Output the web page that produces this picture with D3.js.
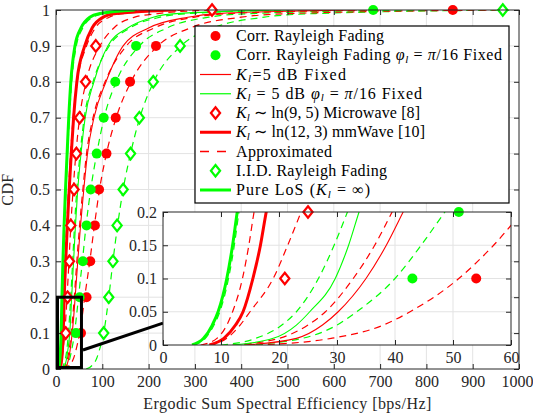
<!DOCTYPE html>
<html>
<head>
<meta charset="utf-8">
<script src="https://cdn.jsdelivr.net/npm/d3@7"></script>
<style>
  body { margin: 0; background: #fff; }
  svg { display: block; }
</style>
</head>
<body>
<div id="chart"></div>
<script>
;(function () {

    var cdfLevels = [0, 0.01, 0.03, 0.05, 0.1, 0.15, 0.2, 0.3, 0.4, 0.5, 0.6, 0.7, 0.8, 0.9, 0.95, 0.98, 0.99, 1];
    // CDF levels of the simulation markers
    var markLevels = [0.1, 0.2, 0.3, 0.4, 0.5, 0.6, 0.7, 0.8, 0.9, 1];

    // spectral efficiency [bps/Hz] at each of cdfLevels
    var losExact    = [5, 7, 8.5, 9.5, 11, 12, 12.8, 15, 17.5, 20.5, 24, 27.5, 32, 41, 54, 73, 95, 170];
    var losApprox   = [5.3, 7.3, 8.8, 9.8, 11.3, 12.3, 13.1, 15.5, 18.2, 21.5, 25, 29, 34, 44, 58, 80, 105, 190];
    var mmExact     = [8, 10.5, 12.5, 13.8, 15.5, 16.8, 17.8, 21, 24.5, 28.5, 33, 38, 45, 62, 78, 102, 130, 260];
    var mmApprox    = [6.5, 9.3, 11, 12, 13.7, 14.8, 15.7, 19, 23, 27, 31.5, 37, 46, 66, 85, 115, 145, 290];
    var microApprox = [8, 11, 13.3, 15, 19, 21.5, 23.8, 28, 32, 37, 43, 51, 65, 95, 125, 170, 220, 340];
    var k5PhiExact  = [12, 19, 23, 25.3, 29.7, 32, 33.8, 38, 42, 47, 54, 63, 82, 112, 155, 210, 260, 500];
    var k5PhiApprox = [10, 16, 20.5, 23, 26.8, 29.5, 31.8, 36, 40, 45, 52, 61, 80, 115, 160, 225, 285, 530];
    var k5Exact     = [14, 23, 27.5, 30.2, 35, 38.5, 41.4, 47, 53, 60, 68, 82, 108, 145, 200, 285, 350, 650];
    var k5Approx    = [12, 20, 25, 28, 32.8, 36.5, 39.5, 45, 51, 58, 66, 80, 106, 152, 212, 300, 370, 700];
    var corrPhiApprox = [14, 24, 30, 33.4, 40, 44.5, 48.6, 57, 65, 75, 88, 104, 130, 180, 240, 330, 420, 800];
    var corrApprox  = [16, 29, 38, 42.6, 51, 57, 62, 73, 83, 94, 109, 130, 162, 220, 290, 400, 500, 950];
    var iidApprox   = [65, 78, 88, 93, 103, 109, 114, 123, 133, 145, 161, 181, 211, 270, 340, 450, 560, 1000];

    // simulation markers at markLevels
    var corrMarks    = [54, 66, 74, 84, 93, 109, 129, 160, 216, 857];
    var corrPhiMarks = [43, 51, 58, 66, 75, 88, 103, 128, 173, 685];
    var microMarks   = [21, 25, 29, 32, 39, 44, 51, 64, 86, 337];
    var iidMarks     = [103, 114, 123, 132, 145, 161, 180, 210, 268, 965];

    var xTicks = [0, 100, 200, 300, 400, 500, 600, 700, 800, 900, 1000];
    var yTicks = [0, 0.1, 0.2, 0.3, 0.4, 0.5, 0.6, 0.7, 0.8, 0.9, 1];
    var insetXTicks = [0, 10, 20, 30, 40, 50, 60];
    var insetYTicks = [0, 0.05, 0.1, 0.15, 0.2];
    var zoomBox = [0, 55, 0, 0.2];

    var legendLabels = [
        [['Corr. Rayleigh Fading']],
        [['Corr. Rayleigh Fading '], ['\u03c6', 'i'], ['l', 'sub'], [' = '], ['\u03c0', 'i'], ['/16 Fixed']],
        [['K', 'i'], ['l', 'sub'], ['=5 dB Fixed']],
        [['K', 'i'], ['l', 'sub'], [' = 5 dB '], ['\u03c6', 'i'], ['l', 'sub'], [' = '], ['\u03c0', 'i'], ['/16 Fixed']],
        [['K', 'i'], ['l', 'sub'], [' \u223c ln(9, 5) Microwave [8]']],
        [['K', 'i'], ['l', 'sub'], [' \u223c ln(12, 3) mmWave [10]']],
        [['Approximated']],
        [['I.I.D. Rayleigh Fading']],
        [['Pure LoS ('], ['K', 'i'], ['l', 'sub'], [' = \u221e)']]
    ];
    // widths of the legend texts as they appear in the figure
    var legendWidths = [148, 266, 110, 186, 184, 189, 96, 151, 134];

    var RED = '#ff0000', GREEN = '#00ff00', INK = '#262626';
    var FONT = '"Liberation Serif", "Times New Roman", Times, serif';

    var curves = [
        { v: iidApprox,     color: GREEN, w: 1.2, dash: '7,5' },
        { v: corrApprox,    color: RED,   w: 1.2, dash: '7,5' },
        { v: corrPhiApprox, color: GREEN, w: 1.2, dash: '7,5' },
        { v: k5Approx,      color: RED,   w: 1.2, dash: '7,5' },
        { v: k5PhiApprox,   color: GREEN, w: 1.2, dash: '7,5' },
        { v: microApprox,   color: RED,   w: 1.2, dash: '7,5' },
        { v: mmApprox,      color: RED,   w: 1.2, dash: '7,5' },
        { v: losApprox,     color: GREEN, w: 1.2, dash: '7,5' },
        { v: k5Exact,       color: RED,   w: 1.1 },
        { v: k5PhiExact,    color: GREEN, w: 1.1 },
        { v: mmExact,       color: RED,   w: 3 },
        { v: losExact,      color: GREEN, w: 3 }
    ];
    var marks = [
        { v: iidMarks,     color: GREEN, shape: 'diamond' },
        { v: corrMarks,    color: RED,   shape: 'dot' },
        { v: corrPhiMarks, color: GREEN, shape: 'dot' },
        { v: microMarks,   color: RED,   shape: 'diamond' }
    ];
    var legendKeys = [
        { color: RED,   shape: 'dot' },
        { color: GREEN, shape: 'dot' },
        { color: RED,   w: 1.2 },
        { color: GREEN, w: 1.2 },
        { color: RED,   shape: 'diamond' },
        { color: RED,   w: 3 },
        { color: RED,   w: 1.4, dash: '9,8' },
        { color: GREEN, shape: 'diamond' },
        { color: GREEN, w: 3 }
    ];

    var W = 533, H = 419;
    var svg = d3.select('#chart').append('svg')
        .attr('width', W)
        .attr('height', H)
        .attr('font-family', FONT);

    var diamond = 'M0,-5.8L4.6,0L0,5.8L-4.6,0Z';

    function drawMarker(sel, shape, color) {
        if (shape === 'dot') {
            sel.append('circle').attr('r', 5).attr('fill', color);
        } else {
            sel.append('path').attr('d', diamond)
                .attr('fill', '#fff')
                .attr('stroke', color)
                .attr('stroke-width', 2.2);
        }
    }

    function panel(g, x, y, xt, yt, fmt, clipId, fontSize) {
        // one axes: white background, grid, curves, markers, box and ticks
        var x0 = x.range()[0], x1 = x.range()[1], y0 = y.range()[0], y1 = y.range()[1];

        g.append('rect').attr('x', x0).attr('y', y1)
            .attr('width', x1 - x0).attr('height', y0 - y1).attr('fill', '#fff');

        g.append('clipPath').attr('id', clipId).append('rect')
            .attr('x', x0).attr('y', y1).attr('width', x1 - x0).attr('height', y0 - y1);

        var grid = g.append('g').attr('stroke', '#e3e3e3').attr('stroke-width', 1);
        grid.selectAll('.gx').data(xt.slice(1, -1)).enter().append('line')
            .attr('x1', x).attr('x2', x).attr('y1', y0).attr('y2', y1);
        grid.selectAll('.gy').data(yt.slice(1, -1)).enter().append('line')
            .attr('y1', y).attr('y2', y).attr('x1', x0).attr('x2', x1);

        var line = d3.line()
            .x(function (d) { return x(d[0]); })
            .y(function (d) { return y(d[1]); })
            .curve(d3.curveMonotoneX);

        var plot = g.append('g').attr('clip-path', 'url(#' + clipId + ')');
        curves.forEach(function (c) {
            plot.append('path')
                .attr('d', line(c.v.map(function (v, i) { return [v, cdfLevels[i]]; })))
                .attr('fill', 'none')
                .attr('stroke', c.color)
                .attr('stroke-width', c.w)
                .attr('stroke-dasharray', c.dash || null);
        });

        var xd = x.domain(), yd = y.domain();
        marks.forEach(function (m) {
            m.v.forEach(function (v, i) {
                var c = markLevels[i];
                if (v < xd[0] || v > xd[1] || c < yd[0] || c > yd[1] + 1e-9) return;
                drawMarker(g.append('g').attr('transform', 'translate(' + x(v) + ',' + y(c) + ')'), m.shape, m.color);
            });
        });

        // MATLAB style box with inward ticks on all four sides
        var ax = g.append('g');
        ax.append('g').attr('class', 'xb').attr('transform', 'translate(0,' + y0 + ')')
            .call(d3.axisBottom(x).tickValues(xt).tickSize(-5).tickPadding(7).tickFormat(fmt));
        ax.append('g').attr('transform', 'translate(0,' + y1 + ')')
            .call(d3.axisTop(x).tickValues(xt).tickSize(-5).tickFormat(''));
        ax.append('g').attr('transform', 'translate(' + x0 + ',0)')
            .call(d3.axisLeft(y).tickValues(yt).tickSize(-5).tickPadding(6).tickFormat(fmt));
        ax.append('g').attr('transform', 'translate(' + x1 + ',0)')
            .call(d3.axisRight(y).tickValues(yt).tickSize(-5).tickFormat(''));
        ax.selectAll('.domain').remove();
        ax.selectAll('g').attr('font-family', FONT).attr('font-size', fontSize);
        ax.selectAll('.tick line').attr('stroke', INK);
        ax.selectAll('.tick text').attr('fill', INK).attr('font-family', FONT);

        g.append('rect').attr('x', x0).attr('y', y1)
            .attr('width', x1 - x0).attr('height', y0 - y1)
            .attr('fill', 'none').attr('stroke', INK).attr('stroke-width', 1);
        return ax;
    }

    function plain(d) { return String(d); }

    // main axes
    var x = d3.scaleLinear().domain([0, 1000]).range([56, 519]);
    var y = d3.scaleLinear().domain([0, 1]).range([369, 10]);
    var mainAx = panel(svg.append('g'), x, y, xTicks, yTicks, plain, 'clipMain', 16);
    // the last x label sits at the page edge: keep it inside
    mainAx.selectAll('.xb .tick text').filter(function (d) { return d === 1000; })
        .attr('text-anchor', 'end').attr('dx', 14);

    svg.append('text')
        .attr('x', (x.range()[0] + x.range()[1]) / 2).attr('y', 409)
        .attr('text-anchor', 'middle').attr('font-size', 16).attr('fill', INK)
        .attr('letter-spacing', 0.45)
        .text('Ergodic Sum Spectral Efficiency [bps/Hz]');
    svg.append('text')
        .attr('transform', 'translate(13,' + y(0.5) + ') rotate(-90)')
        .attr('text-anchor', 'middle').attr('font-size', 16).attr('fill', INK)
        .attr('letter-spacing', 0.4)
        .text('CDF');

    // legend
    var leg = svg.append('g');
    var lx = 195, ly = 26, lw = 314, lh = 177, rowH = 19.25;
    leg.append('rect').attr('x', lx).attr('y', ly).attr('width', lw).attr('height', lh)
        .attr('fill', '#fff').attr('stroke', '#000').attr('stroke-width', 1.2);
    legendLabels.forEach(function (parts, i) {
        var cy = ly + 10 + rowH * i;
        var k = legendKeys[i];
        if (k.shape) {
            drawMarker(leg.append('g').attr('transform', 'translate(215.5,' + cy + ')'), k.shape, k.color);
        } else {
            leg.append('line').attr('x1', 200).attr('x2', 231).attr('y1', cy).attr('y2', cy)
                .attr('stroke', k.color).attr('stroke-width', k.w)
                .attr('stroke-dasharray', k.dash || null);
        }
        var t = leg.append('text').attr('x', 236).attr('y', cy + 5)
            .attr('font-size', 16).attr('fill', '#000')
            .attr('textLength', legendWidths[i]).attr('lengthAdjust', 'spacing');
        var shift = 0;
        parts.forEach(function (p) {
            var s = t.append('tspan').text(p[0]);
            if (p[1] === 'i' || p[1] === 'sub') s.attr('font-style', 'italic');
            if (p[1] === 'sub') {
                s.attr('font-size', 11).attr('dy', 2.5);
                shift = 2.5;
            } else if (shift) {
                s.attr('dy', -shift);
                shift = 0;
            }
        });
    });

    // zoom box and connector
    var zb = svg.append('g').attr('fill', 'none').attr('stroke', '#000').attr('stroke-width', 3);
    zb.append('rect')
        .attr('x', x(zoomBox[0]) + 1.5).attr('y', y(zoomBox[3]))
        .attr('width', x(zoomBox[1]) - x(zoomBox[0]) - 1.5)
        .attr('height', y(zoomBox[2]) - y(zoomBox[3]) - 1.5);

    // inset axes
    var xi = d3.scaleLinear().domain([0, 60]).range([163, 511]);
    var yi = d3.scaleLinear().domain([0, 0.2]).range([345, 212]);

    zb.append('line')
        .attr('x1', x(zoomBox[1]) + 1.5).attr('y1', y(0.053))
        .attr('x2', xi(0)).attr('y2', yi(0.033));

    panel(svg.append('g'), xi, yi, insetXTicks, insetYTicks, plain, 'clipInset', 16);

})();
</script>
</body>
</html>
